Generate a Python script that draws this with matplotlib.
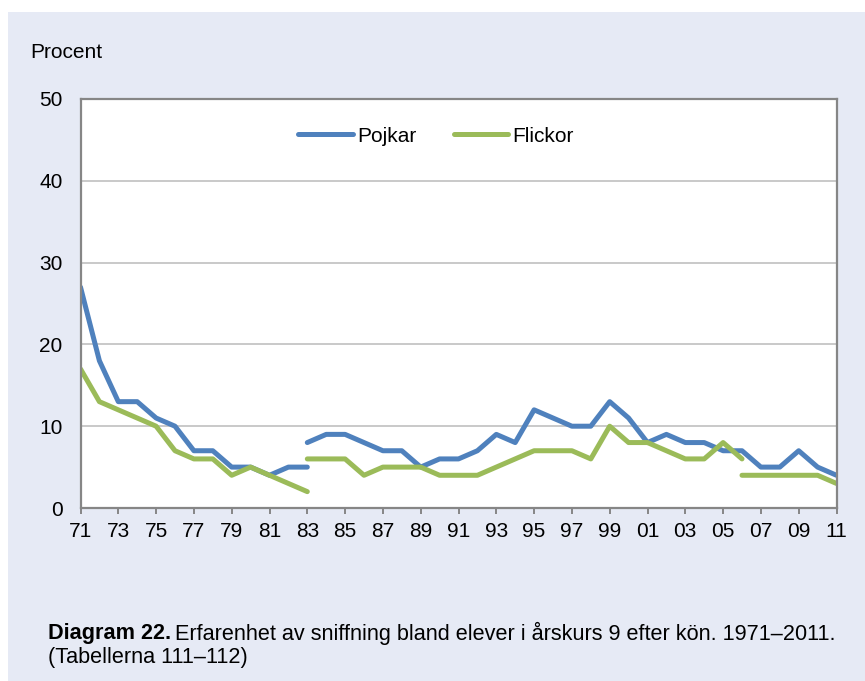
import numpy as np
import matplotlib
matplotlib.use('Agg')
import matplotlib.pyplot as plt
from matplotlib.patches import Rectangle

plt.rcParams['font.family'] = ['Liberation Sans', 'DejaVu Sans']

# data (percent), series break in 1983 and 2006
years_a = list(range(1971, 1984))
pojkar_a = [27, 18, 13, 13, 11, 10, 7, 7, 5, 5, 4, 5, 5]
flickor_a = [17, 13, 12, 11, 10, 7, 6, 6, 4, 5, 4, 3, 2]

years_b = list(range(1983, 2012))
pojkar_b = [8, 9, 9, 8, 7, 7, 5, 6, 6, 7, 9, 8, 12, 11, 10, 10, 13, 11, 8, 9,
            8, 8, 7, 7, 5, 5, 7, 5, 4]

years_fb = list(range(1983, 2007))
flickor_b = [6, 6, 6, 4, 5, 5, 5, 4, 4, 4, 5, 6, 7, 7, 7, 6, 10, 8, 8, 7,
             6, 6, 8, 6]

years_fc = list(range(2006, 2012))
flickor_c = [4, 4, 4, 4, 4, 3]

tick_years = list(range(1971, 2012, 2))
tick_labels = ['%02d' % (y % 100) for y in tick_years]

blue = '#4F81BD'
green = '#9BBB59'
grey = '#868686'
fs = 15
cap_fs = 15.6

W, H = 865, 681
fig = plt.figure(figsize=(W / 100, H / 100), dpi=100)
fig.patches.append(Rectangle((8 / W, 0), 1 - 8 / W, 1 - 12 / H,
                             transform=fig.transFigure, facecolor='#E6EAF5',
                             edgecolor='none', zorder=-10))

ax = fig.add_axes([80.5 / W, 1 - 508 / H, 756 / W, 409 / H])
ax.set_facecolor('white')

kw = dict(lw=3.6, solid_capstyle='round', solid_joinstyle='round')
ax.plot(years_a, pojkar_a, color=blue, label='Pojkar', **kw)
ax.plot(years_b, pojkar_b, color=blue, **kw)
ax.plot(years_a, flickor_a, color=green, label='Flickor', **kw)
ax.plot(years_fb, flickor_b, color=green, **kw)
ax.plot(years_fc, flickor_c, color=green, **kw)

ax.set_xlim(1971, 2011)
ax.set_ylim(0, 50)
ax.set_yticks([0, 10, 20, 30, 40, 50])
ax.set_xticks(tick_years)
ax.set_xticklabels(tick_labels)
ax.yaxis.grid(True, color='#C0C0C0', lw=1.2)
ax.set_axisbelow(True)
for s in ax.spines.values():
    s.set_color(grey)
    s.set_linewidth(1.6)
ax.tick_params(axis='y', length=0, pad=13, labelsize=fs)
ax.tick_params(axis='x', length=4, width=1.4, color=grey, pad=6, labelsize=fs)

ax.legend(ncol=2, loc='center', bbox_to_anchor=(0.47, 0.909), frameon=False,
          fontsize=fs, handlelength=2.6, handletextpad=0.2, columnspacing=1.8)

fig.text(30 / W, 1 - 53 / H, 'Procent', fontsize=fs, va='center', ha='left')

# caption: bold prefix followed by normal text
t1 = fig.text(48 / W, 1 - 633 / H, 'Diagram 22.', fontsize=cap_fs,
              fontweight='bold', va='center', ha='left')
fig.canvas.draw()
bb = t1.get_window_extent()
fig.text((bb.x1 + 4) / W, 1 - 633 / H,
         'Erfarenhet av sniffning bland elever i \u00e5rskurs 9 efter k\u00f6n. 1971\u20132011.',
         fontsize=cap_fs, va='center', ha='left')
fig.text(48 / W, 1 - 658 / H, '(Tabellerna 111\u2013112)', fontsize=cap_fs,
         va='center', ha='left')

fig.savefig('out.png', dpi=100)
